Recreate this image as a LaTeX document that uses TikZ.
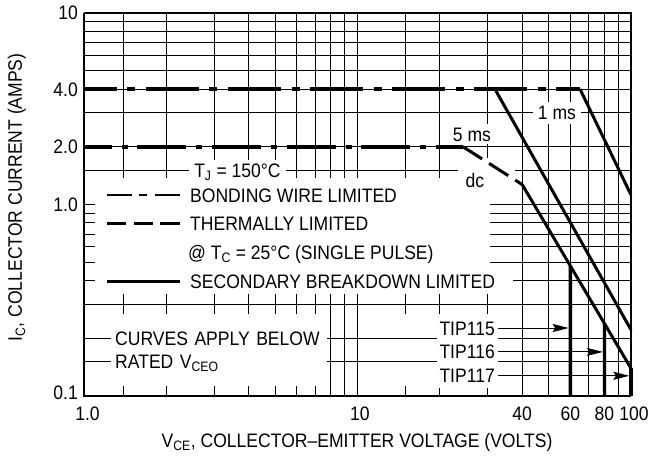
\documentclass[tikz,border=0pt]{standalone}
\usepackage{fontspec}
\setmainfont{Liberation Sans}[FakeStretch=0.9]
\usetikzlibrary{arrows.meta, positioning, backgrounds}

\tikzset{
  declare function={lv(\x)=log10(\x); li(\x)=log10(\x)+1;},
  gridline/.style={line width=1pt, black},
  curve/.style={line width=3pt},
  wire/.style={line width=3.7pt},
  limitline/.style={line width=3.4pt},
  legkey/.style={line width=2.8pt},
  lbl/.style={font=\fontsize{19.5}{23}\selectfont, text height=14pt, text depth=0pt, inner sep=0pt},
  tag/.style={lbl, fill=white, inner xsep=5pt, inner ysep=4pt},
  tiplbl/.style={lbl, fill=white, inner xsep=3pt, inner ysep=4.75pt},
  pointer/.style={line width=1pt, -{Stealth[length=16pt, width=8pt, inset=2.5pt]}, shorten >=1.6pt},
}

\begin{document}
\begin{tikzpicture}[x=273.5pt, y=191.6pt]
    % one decade per unit: 1 V .. 100 V across, 0.1 A .. 10 A up
    \useasboundingbox (-84pt,-63pt) rectangle (565pt,396pt);

    % log grid, kept behind everything
    \begin{scope}[on background layer]
        \foreach \i in {0.15,0.2,0.3,0.4,0.5,0.6,0.7,0.8,0.9,1,1.5,2,3,4,5,6,7,8,9}
            \draw[gridline] (0,{li(\i)}) -- (2,{li(\i)});
        \foreach \v in {1.4,2,3,4,5,6,7,8,9,10,15,20,30,40,50,60,70,80,90}
            \draw[gridline] ({lv(\v)},{li(0.3)}) -- ({lv(\v)},2);
        \foreach \v in {8,9,10,40,50,60,70,80,90}
            \draw[gridline] ({lv(\v)},0) -- ({lv(\v)},{li(0.3)});
        \foreach \v in {1.4,2,3,4,5,6,7,15,20,30} {
            \draw[gridline] ({lv(\v)},0) -- ++(0,10pt);
            \draw[gridline] ({lv(\v)},{li(0.3)}) -- ++(0,-9pt);
        }
    \end{scope}

    % blank areas for the legend and the dc label
    \fill[white] (0pt,102pt) rectangle (406pt,218pt);
    \fill[white] (374pt,196pt) rectangle (431pt,238pt);
    \foreach \i in {0.4,0.5,0.6,0.7,0.8,0.9,1}
        \draw[gridline] (0,{li(\i)}) -- ++(11pt,0);

    % curve labels
    \node[tag] (ms1) at ({lv(53.6)},{li(3)}) {1 ms};
    \node[tag, inner ysep=3pt] (ms5) at (388pt,262pt) {5 ms};
    \node[lbl] (dc) at (391pt,216pt) {dc};
    \node[tag] (tj) at ({lv(3.64)},{li(1.5)}) {T\textsubscript{J} = 150°C};

    % corners of the limit curves
    \coordinate (w4a) at (0,{li(4)});
    \coordinate (w4b) at ({lv(65.1)},{li(4)});
    \coordinate (p5) at ({lv(31.8)},{li(4)});
    \coordinate (w2a) at (0,{li(2)});
    \coordinate (w2b) at ({lv(24.3)},{li(2)});
    \coordinate (th) at ({lv(40)},{li(1.27)});
    \coordinate (dcend) at (2,{li(0.137)});
    \coordinate (ms5end) at (2,{li(0.2216)});
    \coordinate (ms1end) at (2,{li(1.121)});

    % bonding wire limit
    \draw[wire, dash pattern=on 53pt off 10.5pt on 8pt off 10.5pt, dash phase=20pt] (w4a) -- (w4b);
    \draw[wire, dash pattern=on 49pt off 10pt on 6pt off 9.5pt, dash phase=21pt] (w2a) -- (w2b);
    % thermal limit
    \draw[curve, dash pattern=on 22.7pt off 8.3pt] (w2b) -- (th);
    % secondary breakdown
    \draw[curve] (th) -- (dcend);
    \draw[curve] (p5) -- (ms5end);
    \draw[curve] (w4b) -- (ms1end);

    % rated voltage cut-offs
    \foreach \v in {60,80} {
        \coordinate (foot\v) at ({lv(\v)},0);
        \coordinate (head\v) at ({lv(\v)},2);
        \draw[limitline] (foot\v) -- (intersection of th--dcend and foot\v--head\v);
    }
    \coordinate (foot100) at (2,0);
    \draw[limitline] (foot100) -- (dcend);

    % frame
    \draw[line width=1.4pt] (0,2) -- (2,2) -- (2,0);
    \draw[line width=2.8pt] (0,2) -- (0,0) -- (2,0);

    % axis numbers
    \foreach \i/\t [count=\n] in {10/10,4/4.0,2/2.0,1/1.0}
        \node[lbl, anchor=east, xshift=-6pt] (ynum\n) at (0,{li(\i)}) {\t};
    \node[lbl, anchor=east, xshift=-6pt, yshift=4pt] (ynum5) at (0,0) {0.1};
    \foreach \v/\t/\s [count=\n] in {1/1.0/3.5,10/10/2.5,40/40/0,60/60/0,80/80/0,100/100/3}
        \node[lbl, xshift=\s pt, yshift=-17.3pt] (xnum\n) at ({lv(\v)},0) {\t};

    % axis titles
    \node[lbl] (xtitle) at (273pt,-44.5pt) {V\textsubscript{CE}, COLLECTOR--EMITTER VOLTAGE (VOLTS)};
    \node[lbl, rotate=90] (ytitle) at (-69pt,198.5pt) {I\textsubscript{C}, COLLECTOR CURRENT (AMPS)};

    % legend
    \node[lbl, anchor=west] (bond) at (106pt,201pt) {BONDING WIRE LIMITED};
    \node[lbl, below right=14.3pt and 0pt of bond.south west] (therm) {THERMALLY LIMITED};
    \node[lbl, below right=14.3pt and -2pt of therm.south west] (pulse) {@ T\textsubscript{C} = 25°C (SINGLE PULSE)};
    \node[lbl, fill=white, below right=14.3pt and 2pt of pulse.south west] (sec) {SECONDARY BREAKDOWN LIMITED};
    \fill[white] ([yshift=3pt]sec.north east) rectangle ([xshift=18pt,yshift=-3pt]sec.south east);
    \draw[legkey, dash pattern=on 25pt off 7.5pt on 8pt off 7.5pt] ([xshift=-83pt]bond.west) -- ([xshift=-10pt]bond.west);
    \draw[legkey, dash pattern=on 19.5pt off 7.25pt] ([xshift=-83pt]therm.west) -- ([xshift=-10pt]therm.west);
    \draw[legkey] ([xshift=-83pt]sec.west) -- ([xshift=-10pt]sec.west);

    % note on rated voltage
    \node[tag, anchor=west, text width=208pt, align=left, inner xsep=4pt] (curves) at (27pt,{li(0.2)}) {CURVES APPLY BELOW};
    \node[tag, anchor=west, text width=208pt, align=left, inner xsep=4pt] (rated) at (27pt,{li(0.15)}) {RATED V\textsubscript{CEO}};

    % device labels
    \node[tiplbl, anchor=east] (tip115) at (414pt,68pt) {TIP115};
    \node[tiplbl, below=0pt of tip115] (tip116) {TIP116};
    \node[tiplbl, below=0pt of tip116] (tip117) {TIP117};
    \foreach \n/\v in {115/60,116/80,117/100}
        \draw[pointer] (tip\n.east) -- (tip\n.east -| foot\v);
\end{tikzpicture}
\end{document}
